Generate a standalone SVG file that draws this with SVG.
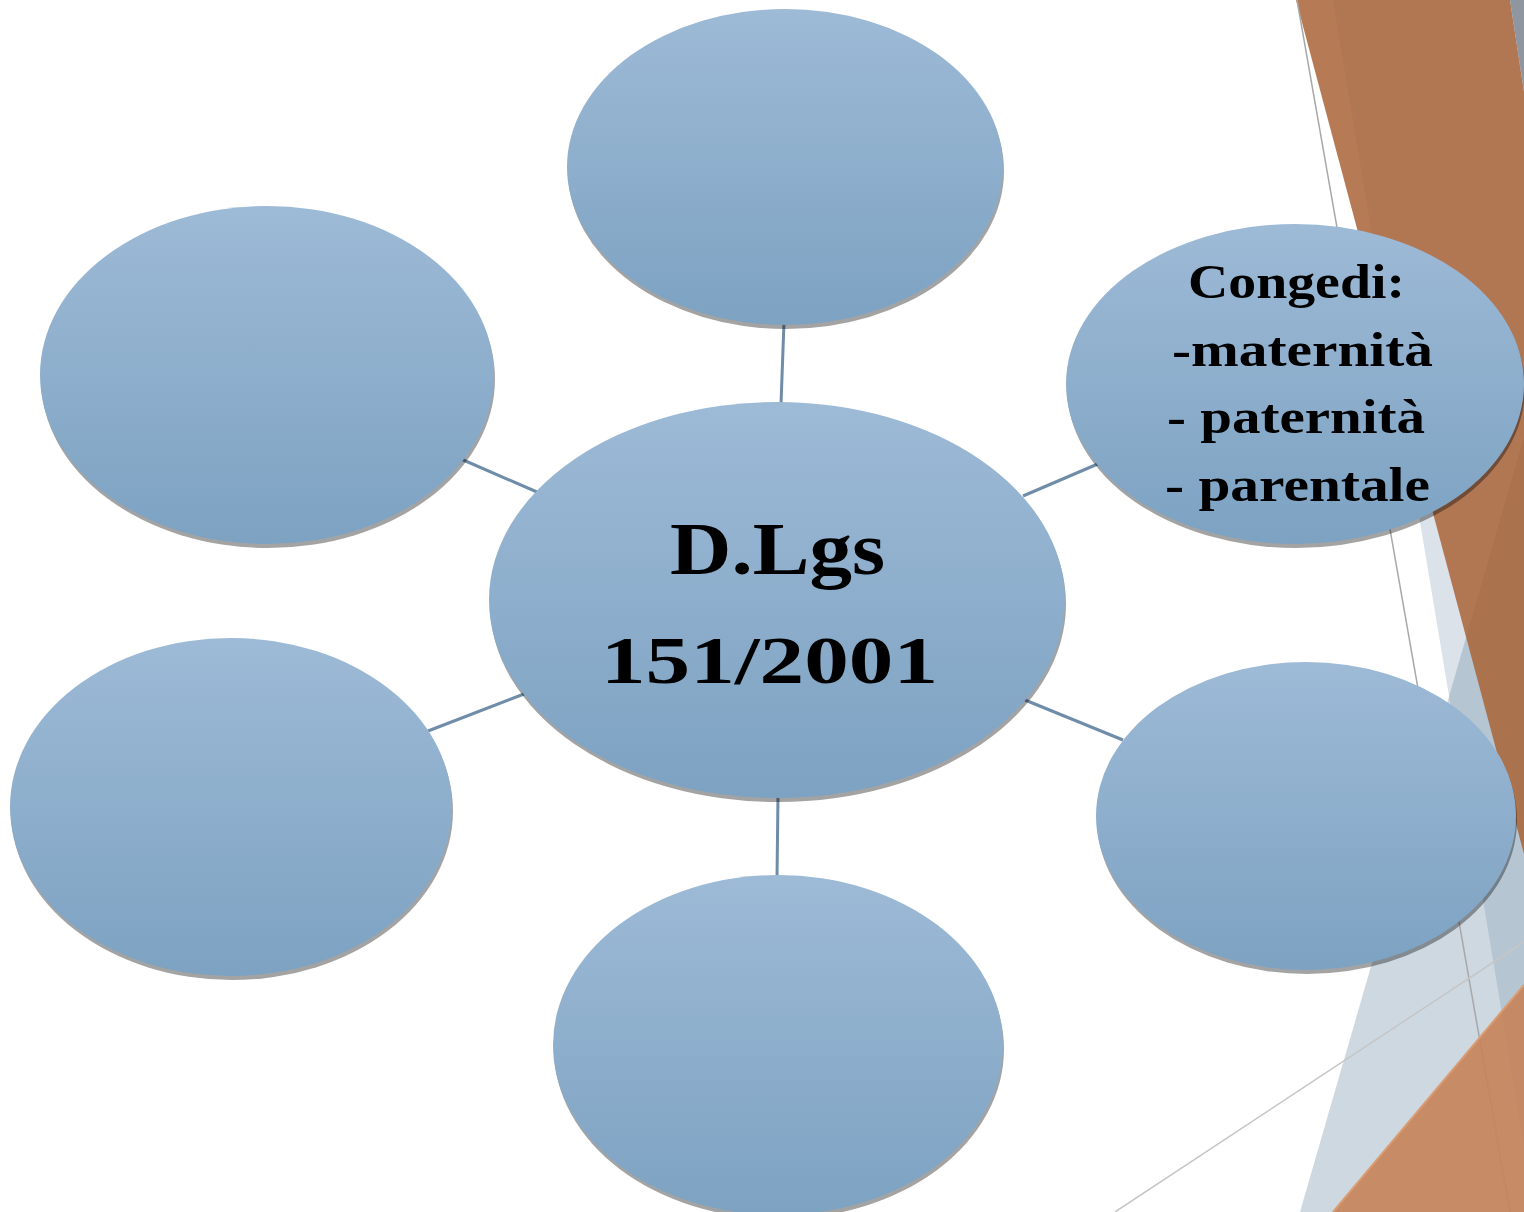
<svg xmlns="http://www.w3.org/2000/svg" width="1524" height="1212" viewBox="0 0 1524 1212">
<defs>
<linearGradient id="blue" x1="0" y1="0" x2="0" y2="1">
<stop offset="0" stop-color="#9DBAD6"/>
<stop offset="1" stop-color="#7DA2C2"/>
</linearGradient>
<style>
.node{fill:url(#blue);}
.shadow{fill:#000;fill-opacity:0.36;}
.conn{stroke:#6F8CA8;stroke-width:3;fill:none;}
.lbl{font-family:"Liberation Serif","Times New Roman",serif;font-weight:bold;fill:#000;}
</style>
</defs>
<rect width="1524" height="1212" fill="#FFFFFF"/>
<g id="background">
<polygon points="1333,0 1600,0 1600,1212 1535,1212" fill="#DCE2E9"/>
<polygon points="1300,1212 1524,437 1524,1212" fill="#6D8DA8" fill-opacity="0.34"/>
<polygon points="1296,0 1510,0 1524,92 1524,854" fill="#A96337" fill-opacity="0.85"/>
<polygon points="1510,0 1524,0 1524,92" fill="#8F969F"/>
<line x1="1297" y1="0" x2="1510" y2="1212" stroke="#A8A8A8" stroke-width="1.5"/>
<line x1="1115" y1="1212" x2="1524" y2="942" stroke="#C6C6C6" stroke-width="1.5"/>
<polygon points="1333,1212 1524,985 1524,1212" fill="#C6845C" fill-opacity="0.93"/>
<line x1="1333" y1="1212" x2="1524" y2="985" stroke="#DB9B70" stroke-width="2"/>
</g>
<g id="connectors">
<line class="conn" x1="784" y1="322" x2="781" y2="404"/>
<line class="conn" x1="461" y1="459" x2="537" y2="492"/>
<line class="conn" x1="1100" y1="463" x2="1023" y2="496"/>
<line class="conn" x1="428" y1="731" x2="524" y2="694"/>
<line class="conn" x1="1123" y1="740" x2="1025" y2="700"/>
<line class="conn" x1="778" y1="796" x2="777" y2="878"/>
</g>
<g id="node-top">
<ellipse class="shadow" cx="786" cy="171" rx="218" ry="158"/>
<ellipse class="node" cx="785" cy="167" rx="218" ry="158"/>
</g>
<g id="node-upper-left">
<ellipse class="shadow" cx="268" cy="379" rx="227" ry="169"/>
<ellipse class="node" cx="267" cy="375" rx="227" ry="169"/>
</g>
<g id="node-center">
<ellipse class="shadow" cx="778" cy="604" rx="288" ry="198"/>
<ellipse class="node" cx="777" cy="600" rx="288" ry="198"/>
<text class="lbl" x="670" y="574" font-size="75" textLength="215" lengthAdjust="spacingAndGlyphs">D.Lgs</text>
<text class="lbl" x="601" y="683" font-size="68" textLength="337" lengthAdjust="spacingAndGlyphs">151/2001</text>
</g>
<g id="node-congedi">
<ellipse class="shadow" cx="1296" cy="388" rx="229" ry="160"/>
<ellipse class="node" cx="1295" cy="384" rx="229" ry="160"/>
<text class="lbl" x="1188" y="298" font-size="48" textLength="217" lengthAdjust="spacingAndGlyphs">Congedi:</text>
<text class="lbl" x="1172" y="366" font-size="48" textLength="261" lengthAdjust="spacingAndGlyphs">-maternità</text>
<text class="lbl" x="1167" y="433" font-size="48" textLength="258" lengthAdjust="spacingAndGlyphs">- paternità</text>
<text class="lbl" x="1165" y="501" font-size="48" textLength="265" lengthAdjust="spacingAndGlyphs">- parentale</text>
</g>
<g id="node-lower-left">
<ellipse class="shadow" cx="232" cy="811" rx="221" ry="169"/>
<ellipse class="node" cx="231" cy="807" rx="221" ry="169"/>
</g>
<g id="node-right">
<ellipse class="shadow" cx="1307" cy="820" rx="210" ry="154"/>
<ellipse class="node" cx="1306" cy="816" rx="210" ry="154"/>
</g>
<g id="node-bottom">
<ellipse class="shadow" cx="779" cy="1049" rx="225" ry="170"/>
<ellipse class="node" cx="778" cy="1045" rx="225" ry="170"/>
</g>
</svg>
